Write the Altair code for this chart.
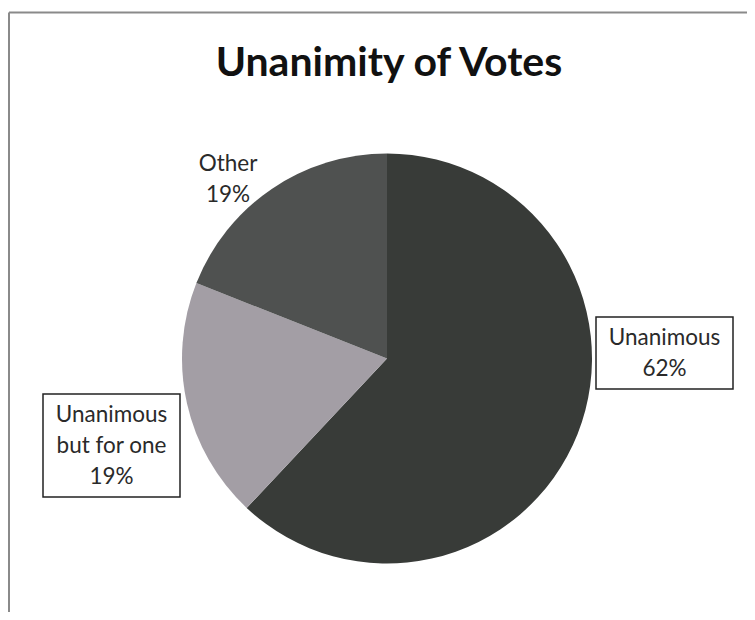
import altair as alt
import pandas as pd

categories = ["Unanimous", "Unanimous but for one", "Other"]
values = [62, 19, 19]
label_texts = ["Unanimous\n62%", "Unanimous\nbut for one\n19%", "Other\n19%"]
colors = ["#383b38", "#a39ea5", "#4f5150"]
title_text = "Unanimity of Votes"

df = pd.DataFrame({
    "category": categories,
    "value": values,
    "label": label_texts,
    "order": list(range(len(categories))),
})

W, H = 739, 604
FONT = "Lato"
CX, CY, R = 379, 350.5, 205
LH = 31

base = alt.Chart(df)

frame_top = base.transform_filter("datum.order == 0").mark_rule(color="#8a8a8a", strokeWidth=2).encode(
    x=alt.value(1), x2=alt.value(W), y=alt.value(4.5)
)
frame_left = base.transform_filter("datum.order == 0").mark_rule(color="#8a8a8a", strokeWidth=2).encode(
    x=alt.value(1), y=alt.value(4.5), y2=alt.value(H)
)

pie = base.mark_arc(radius=R, stroke=None).encode(
    theta=alt.Theta("value:Q", stack=True),
    color=alt.Color("category:N", scale=alt.Scale(domain=categories, range=colors), legend=None),
    order=alt.Order("order:Q"),
    x=alt.value(CX),
    y=alt.value(CY),
)

title = base.transform_filter("datum.order == 0").mark_text(
    font=FONT, fontSize=41, fontWeight="bold", color="#111111", baseline="alphabetic", align="center"
).encode(x=alt.value(381), y=alt.value(68), text=alt.value(title_text))

def boxed(idx, x1, x2, y1, y2, nlines, box=True):
    layers = []
    sub = base.transform_filter(f"datum.order == {idx}")
    if box:
        layers.append(sub.mark_rect(fill="white", stroke="#222222", strokeWidth=1.5).encode(
            x=alt.value(x1), x2=alt.value(x2), y=alt.value(y1), y2=alt.value(y2)))
    ytop = (y1 + y2) / 2 - (nlines - 1) * LH / 2
    layers.append(sub.mark_text(
        font=FONT, fontSize=22.5, color="#2a2a2a", align="center", baseline="middle",
        lineBreak="\n", lineHeight=LH,
    ).encode(x=alt.value((x1 + x2) / 2), y=alt.value(ytop), text="label:N"))
    return layers

lab1 = boxed(0, 588, 725, 309, 381, 2)
lab2 = boxed(1, 35, 172, 386, 489, 3)
lab3 = boxed(2, 190, 250, 140, 202, 2, box=False)

chart = alt.layer(frame_top, frame_left, pie, title, *lab1, *lab2, *lab3).properties(
    width=W, height=H, background="white", padding=0,
    autosize=alt.AutoSizeParams(type="none"),
).configure_view(stroke=None)

chart.save("out.html", embed_options={"renderer": "svg", "actions": False})
